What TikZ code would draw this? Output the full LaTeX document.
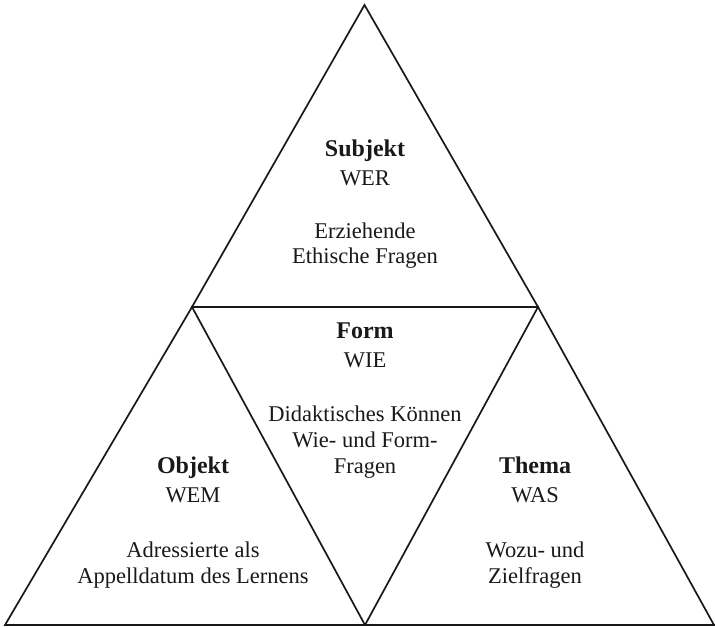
\documentclass[tikz,border=0pt]{standalone}
\usepackage{fontspec}
\setmainfont{Liberation Serif}
\begin{document}
\begin{tikzpicture}[x=1pt,y=-1pt,
  edge/.style={line width=1.7pt,line join=miter,black!90},
  txt/.style={anchor=base,inner sep=0pt,font=\fontsize{22.5}{26}\selectfont,text=black!90},
  ttl/.style={txt,font=\fontsize{24}{28}\selectfont\bfseries}]
\useasboundingbox (0,0) rectangle (715,628);
% corners
\coordinate (A) at (364.5,5);
\coordinate (ML) at (192,307);
\coordinate (MR) at (538,307);
\coordinate (BL) at (5,625);
\coordinate (MB) at (365,625);
\coordinate (BR) at (714,625);
\coordinate (BE) at (715,625);
% triangles
\draw[edge] (A) -- (ML) -- (MR) -- cycle;
\draw[edge] (ML) -- (BL) -- (MB) -- cycle;
\draw[edge] (MR) -- (MB) -- (BR) -- cycle;
\draw[edge] (BL) -- (BE);
% Subjekt
\node[ttl] (s1) at (365,157) {Subjekt};
\node[txt] (s2) at (365,186) {WER};
\node[txt] (s3) at (365,239) {Erziehende};
\node[txt] (s4) at (365,264) {Ethische Fragen};
% Form
\node[ttl] (f1) at (365,338) {Form};
\node[txt] (f2) at (365,367) {WIE};
\node[txt] (f3) at (365,421) {Didaktisches Können};
\node[txt] (f4) at (365,447) {Wie- und Form-};
\node[txt] (f5) at (365,473) {Fragen};
% Objekt
\node[ttl] (o1) at (193,473) {Objekt};
\node[txt] (o2) at (193,502) {WEM};
\node[txt] (o3) at (193,557) {Adressierte als};
\node[txt] (o4) at (193,583) {Appelldatum des Lernens};
% Thema
\node[ttl] (t1) at (535,473) {Thema};
\node[txt] (t2) at (535,502) {WAS};
\node[txt] (t3) at (535,557) {Wozu- und};
\node[txt] (t4) at (535,583) {Zielfragen};
\end{tikzpicture}
\end{document}
